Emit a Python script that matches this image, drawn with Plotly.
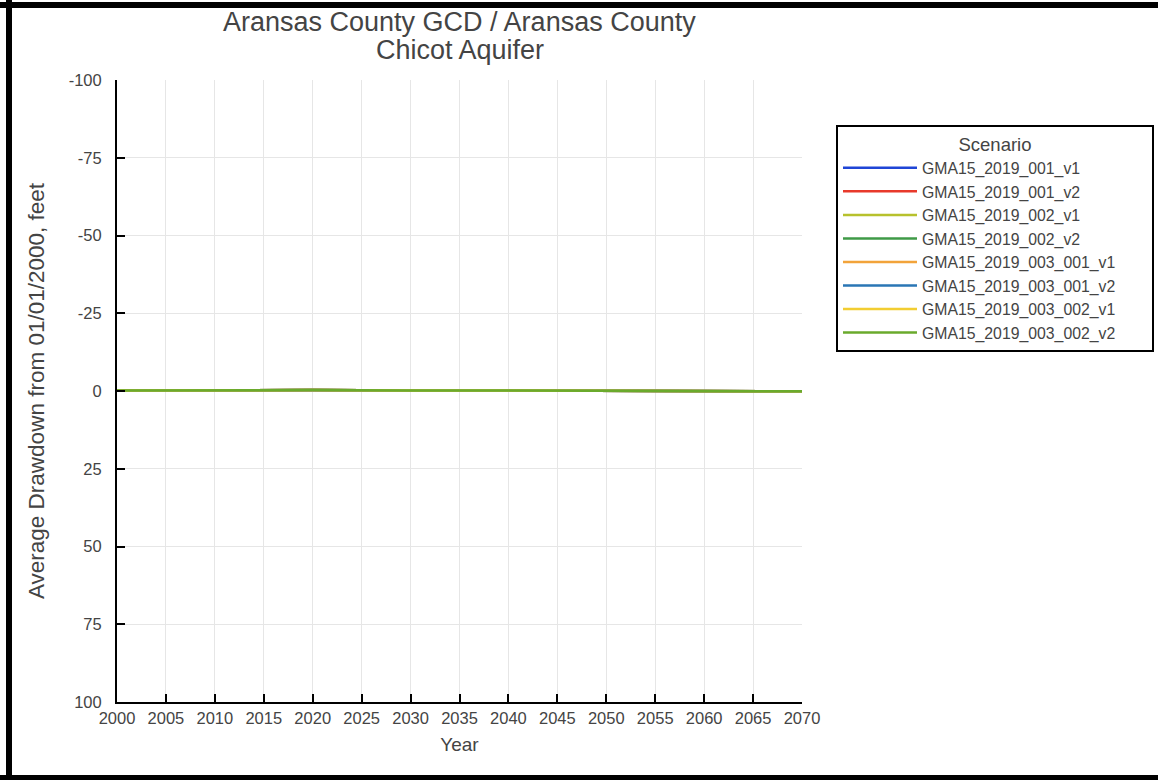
import plotly.graph_objects as go

# Simulated average drawdown (feet, relative to 01/01/2000) per scenario
years = [2000, 2010, 2020, 2030, 2040, 2050, 2060, 2070]
scenarios = [
    "GMA15_2019_001_v1",
    "GMA15_2019_001_v2",
    "GMA15_2019_002_v1",
    "GMA15_2019_002_v2",
    "GMA15_2019_003_001_v1",
    "GMA15_2019_003_001_v2",
    "GMA15_2019_003_002_v1",
    "GMA15_2019_003_002_v2",
]
colors = ["#1f45d6", "#e8392b", "#b7c12c", "#3f9a47", "#f2a33a", "#2a76b5", "#f2cd32", "#6aaa2c"]
drawdown = {
    "GMA15_2019_001_v1":     [-0.2, -0.3, -0.3, -0.2, -0.1, 0.0, 0.0, 0.1],
    "GMA15_2019_001_v2":     [-0.2, -0.3, -0.3, -0.2, -0.1, 0.0, 0.0, 0.1],
    "GMA15_2019_002_v1":     [-0.2, -0.3, -0.3, -0.2, -0.1, 0.0, 0.0, 0.1],
    "GMA15_2019_002_v2":     [-0.2, -0.3, -0.3, -0.2, -0.1, 0.0, 0.0, 0.1],
    "GMA15_2019_003_001_v1": [-0.2, -0.3, -0.3, -0.2, -0.1, 0.0, 0.0, 0.1],
    "GMA15_2019_003_001_v2": [-0.2, -0.3, -0.3, -0.2, -0.1, 0.0, 0.0, 0.1],
    "GMA15_2019_003_002_v1": [-0.2, -0.3, -0.3, -0.2, -0.1, 0.0, 0.0, 0.1],
    "GMA15_2019_003_002_v2": [-0.2, -0.3, -0.3, -0.2, -0.1, 0.0, 0.0, 0.1],
}
x_ticks = list(range(2000, 2071, 5))
y_ticks = [-100, -75, -50, -25, 0, 25, 50, 75, 100]
title_lines = ["Aransas County GCD / Aransas County", "Chicot Aquifer"]

FONT = "Liberation Sans, Arial, Helvetica, sans-serif"
TEXT = "#444444"

fig = go.Figure()
for name, color in zip(scenarios, colors):
    fig.add_trace(go.Scatter(
        x=years, y=drawdown[name], mode="lines", name=name,
        line=dict(color=color, width=2.5),
    ))

W, H = 1158, 780
L, R, T, B = 117, 356, 80, 78
pw, ph = W - L - R, H - T - B


def px_x(p):
    return (p - L) / pw


def px_y(p):
    return (H - B - p) / ph


# black frame around the figure (left, top, bottom)
frame = [
    (6, 0, 12, 780),
    (0, 2, 1158, 8),
    (0, 775, 1158, 780),
]
shapes = [
    dict(type="rect", xref="paper", yref="paper",
         x0=px_x(a), x1=px_x(c), y0=px_y(d), y1=px_y(b),
         fillcolor="black", line=dict(width=0), layer="above")
    for a, b, c, d in frame
]

# two-line chart title
annotations = [
    dict(text=line, xref="paper", yref="paper", x=px_x(459.5), y=px_y(cy),
         xanchor="center", yanchor="middle", showarrow=False,
         font=dict(size=27, color=TEXT))
    for line, cy in zip(title_lines, [22, 50])
]

# padded legend heading keeps the box wide with the title centred
pad = "&nbsp;" * 23
legend_title = pad + "Scenario" + pad

fig.update_layout(
    width=W, height=H,
    margin=dict(l=L, r=R, t=T, b=B, autoexpand=False),
    paper_bgcolor="white", plot_bgcolor="white",
    font=dict(family=FONT, color=TEXT, size=16),
    xaxis=dict(
        range=[2000, 2070], tickvals=x_ticks, ticktext=[str(v) for v in x_ticks],
        showline=True, linecolor="black", linewidth=2,
        ticks="inside", ticklen=8, tickwidth=2, tickcolor="black",
        showgrid=True, gridcolor="#e6e6e6", gridwidth=1, zeroline=False,
        tickfont=dict(size=16.5, color=TEXT), tickangle=0,
        title=dict(text="Year", font=dict(size=19, color=TEXT), standoff=12),
    ),
    yaxis=dict(
        range=[100, -100], tickvals=y_ticks, ticktext=[str(v) for v in y_ticks],
        showline=True, linecolor="black", linewidth=2,
        ticks="inside", ticklen=8, tickwidth=2, tickcolor="black",
        showgrid=True, gridcolor="#e6e6e6", gridwidth=1, zeroline=False,
        tickfont=dict(size=16.5, color=TEXT), ticklabelstandoff=10,
        title=dict(text="Average Drawdown from 01/01/2000, feet",
                   font=dict(size=22.5, color=TEXT), standoff=18),
    ),
    legend=dict(
        title=dict(text=legend_title, side="top center", font=dict(size=18.5, color=TEXT)),
        x=px_x(836), xanchor="left", y=px_y(125), yanchor="top",
        bordercolor="black", borderwidth=2, bgcolor="white",
        font=dict(size=15.8, color=TEXT), itemwidth=74,
        tracegroupgap=0,
    ),
    shapes=shapes,
    annotations=annotations,
    showlegend=True,
)

fig.write_html("out.html")
